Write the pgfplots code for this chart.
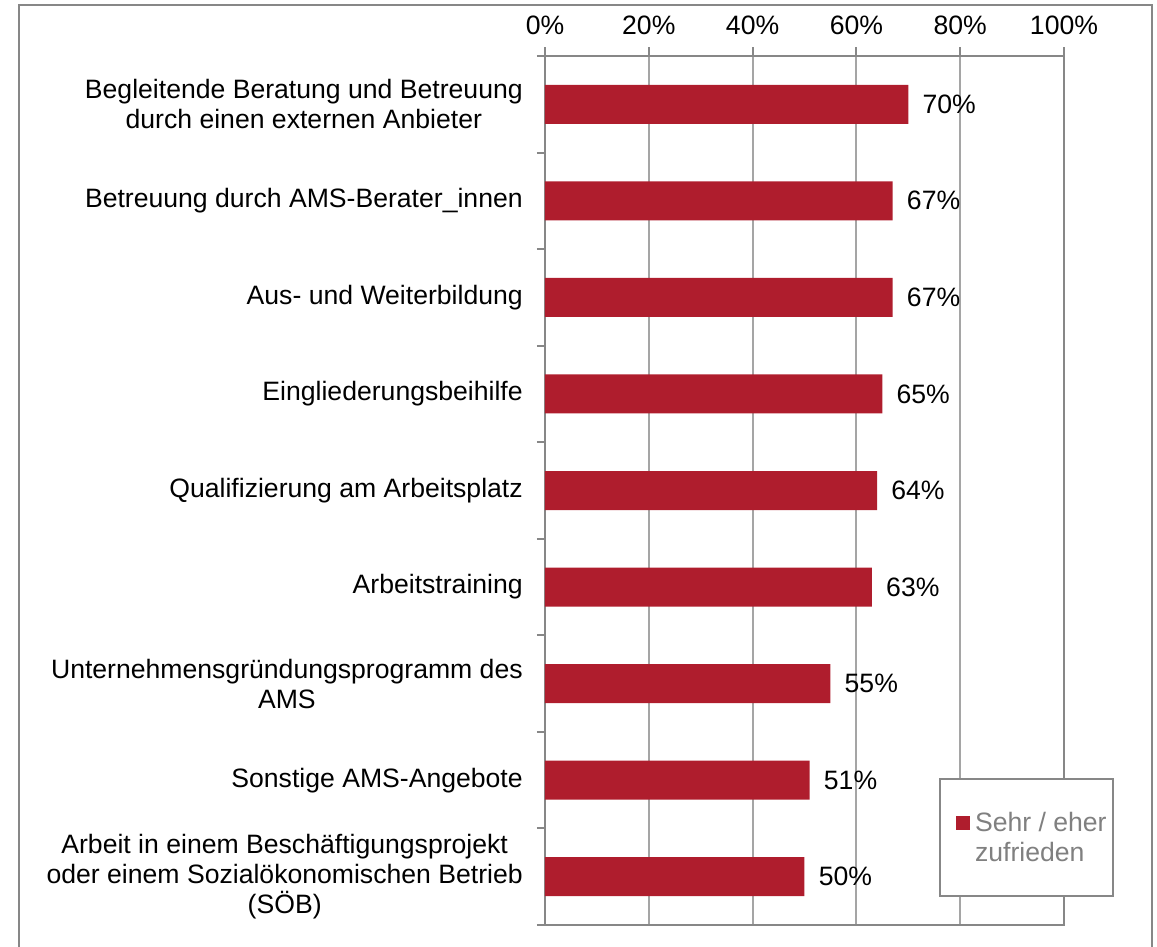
\documentclass[border=0pt]{standalone}
\usepackage{fontspec}
\setmainfont{Liberation Sans}
\usepackage{pgfplots}
\pgfplotsset{compat=1.18}
\definecolor{barred}{RGB}{175,29,45}
\definecolor{gridgray}{RGB}{165,165,165}
\definecolor{axgray}{RGB}{135,135,135}
\definecolor{leggray}{RGB}{128,128,128}

\begin{document}
\fontsize{13.3}{15}\selectfont
\begin{tikzpicture}
% outer frame (runs past the bottom edge, cropped by the bounding box)
\draw[axgray, line width=1pt] (-262.75pt,-30pt) rectangle (303.35pt,459.75pt);
\begin{axis}[
  at={(0pt,0pt)}, anchor=south west,
  scale only axis, width=259.5pt, height=434.5pt,
  xbar, bar width=19.5pt,
  xmin=0, xmax=100, ymin=-0.5, ymax=8.5, y dir=reverse,
  font=\fontsize{13.3}{15}\selectfont,
  /pgf/number format/assume math mode=true,
  axis line style={axgray, line width=1pt},
  tick align=outside, major tick length=4.5pt, minor tick length=4pt,
  xtick={0,20,...,100}, xtick pos=right, xticklabel pos=right,
  xticklabel={\pgfmathprintnumber{\tick}\%},
  xticklabel style={yshift=1.5pt},
  x tick style={axgray, line width=1pt},
  xmajorgrids, grid style={gridgray, line width=1pt},
  ytick={0,...,8}, ytick pos=left,
  minor ytick={-0.5,0.5,...,8.5},
  major y tick style={draw=none},
  minor y tick style={axgray, line width=1pt},
  yticklabels={
    {Begleitende Beratung und Betreuung\\durch einen externen Anbieter},
    {Betreuung durch AMS-Berater\_innen},
    {Aus- und Weiterbildung},
    {Eingliederungsbeihilfe},
    {Qualifizierung am Arbeitsplatz},
    {Arbeitstraining},
    {Unternehmensgründungsprogramm des\\AMS},
    {Sonstige AMS-Angebote},
    {Arbeit in einem Beschäftigungsprojekt\\oder einem Sozialökonomischen Betrieb\\(SÖB)}},
  yticklabel style={align=center, text=black, xshift=-2pt},
  nodes near coords={\pgfmathprintnumber{\pgfplotspointmeta}\%},
  nodes near coords style={text=black, anchor=west, xshift=2.5pt},
  legend style={at={(0.7592,0.169)}, anchor=north west,
    draw=axgray, line width=1pt, fill=white, text=leggray,
    inner xsep=3pt, inner ysep=15.75pt, column sep=2.5pt,
    nodes={inner sep=0pt}},
  legend cell align=left,
  legend image code/.code={%
    \path[draw=none, fill=none] (-5pt,-16.5pt) rectangle (7pt,9.5pt);
    \fill[barred] (0pt,0.5pt) rectangle (7pt,7.5pt);},
]
\addplot[fill=barred, draw=none] coordinates {
  (70,0) (67,1) (67,2) (65,3) (64,4) (63,5) (55,6) (51,7) (50,8)};
\addlegendentry{{\begin{tabular}{@{}l@{}}Sehr / eher\\zufrieden\end{tabular}}}
\end{axis}
\pgfresetboundingbox
\useasboundingbox (-272.5pt,-11pt) rectangle (306pt,462.5pt);
\end{tikzpicture}
\end{document}
